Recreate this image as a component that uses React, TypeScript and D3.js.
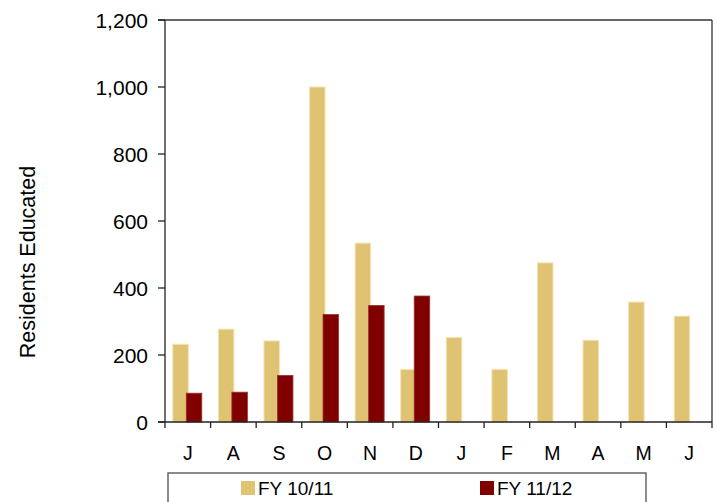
import React from "react";
import * as d3 from "d3";

const months = ["J", "A", "S", "O", "N", "D", "J", "F", "M", "A", "M", "J"];
const fy1011 = [232, 277, 242, 1000, 534, 157, 252, 157, 475, 244, 358, 316];
const fy1112: (number | null)[] = [86, 89, 139, 321, 348, 376, null, null, null, null, null, null];
const yTicks = [0, 200, 400, 600, 800, 1000, 1200];
const seriesNames = ["FY 10/11", "FY 11/12"];
const colors = ["#DFC272", "#800000"];

export default function App() {
  const W = 717, H = 502;
  const left = 165, right = 712, top = 20, bottom = 422;
  const x = d3.scaleBand<number>().domain(d3.range(months.length)).range([left, right]);
  const y = d3.scaleLinear().domain([0, 1200]).range([bottom, top]);
  const bw = 15.5;
  const fmt = d3.format(",");
  const font = "Liberation Sans, Arial, sans-serif";
  return (
    <svg width={W} height={H} style={{ position: "absolute", left: 0, top: 0 }} fontFamily={font}>
      <rect x={0} y={0} width={W} height={H} fill="#fff" />
      {/* bars */}
      {fy1011.map((v, i) => {
        const c = x(i)! + x.bandwidth() / 2;
        return (
          <rect key={"a" + i} x={c - 15} y={y(v)} width={bw} height={bottom - y(v)}
            fill={colors[0]} stroke="#F3E3B5" strokeWidth={1} />
        );
      })}
      {fy1112.map((v, i) => {
        if (v == null) return null;
        const c = x(i)! + x.bandwidth() / 2;
        return (
          <rect key={"b" + i} x={c - 1.5} y={y(v)} width={bw} height={bottom - y(v)}
            fill={colors[1]} stroke="#9A3030" strokeWidth={0.8} />
        );
      })}
      {/* frame */}
      <line x1={158} x2={right} y1={top} y2={top} stroke="#333" strokeWidth={1.3} />
      <line x1={right} x2={right} y1={top} y2={bottom} stroke="#333" strokeWidth={1.3} />
      <line x1={left} x2={left} y1={top} y2={bottom + 6} stroke="#222" strokeWidth={1.3} />
      <line x1={158} x2={right} y1={bottom} y2={bottom} stroke="#222" strokeWidth={1.3} />
      {/* y ticks */}
      {yTicks.map((t) => (
        <g key={t}>
          <line x1={158} x2={left} y1={y(t)} y2={y(t)} stroke="#222" strokeWidth={1.3} />
          <text x={148} y={y(t)} dy="0.36em" textAnchor="end" fontSize={21} fill="#000">{fmt(t)}</text>
        </g>
      ))}
      {/* x ticks */}
      {months.map((m, i) => (
        <g key={i}>
          <line x1={x(i)! + x.bandwidth()} x2={x(i)! + x.bandwidth()} y1={bottom} y2={bottom + 6} stroke="#222" strokeWidth={1.3} />
          <text x={x(i)! + x.bandwidth() / 2} y={459.5} textAnchor="middle" fontSize={19.5} fill="#000">{m}</text>
        </g>
      ))}
      {/* y label */}
      <text transform={`translate(35,262) rotate(-90)`} textAnchor="middle" fontSize={21.5} fill="#000">Residents Educated</text>
      {/* legend */}
      <rect x={168} y={473} width={478} height={40} fill="#fff" stroke="#666" strokeWidth={1.5} />
      <rect x={241} y={481} width={14} height={14} fill={colors[0]} />
      <text x={258} y={494.5} fontSize={19} fill="#000">{seriesNames[0]}</text>
      <rect x={480} y={481} width={14} height={14} fill={colors[1]} />
      <text x={497} y={494.5} fontSize={19} fill="#000">{seriesNames[1]}</text>
    </svg>
  );
}
